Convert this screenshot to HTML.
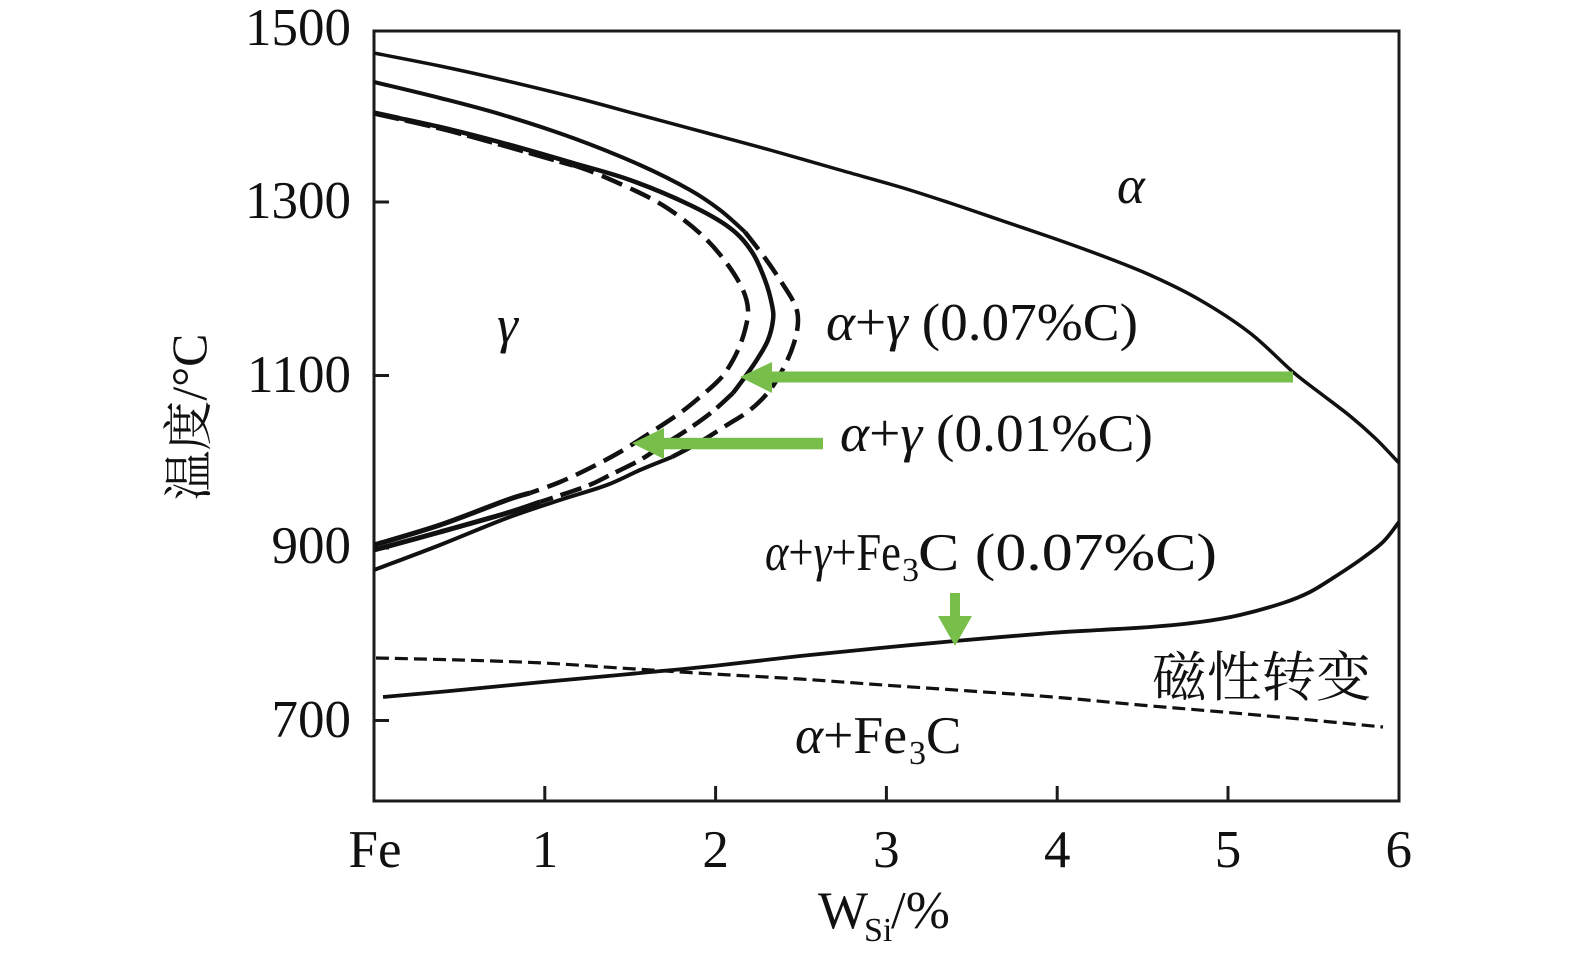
<!DOCTYPE html>
<html>
<head>
<meta charset="utf-8">
<style>
  html, body { margin: 0; padding: 0; background: #ffffff; }
  svg { display: block; }
  .t { font-family: "Liberation Serif", "Noto Serif CJK SC", serif; fill: #111; }
  .i { font-style: italic; }
</style>
</head>
<body>
<svg id="chart" width="1575" height="963" viewBox="0 0 1575 963" xmlns="http://www.w3.org/2000/svg">
  <rect x="0" y="0" width="1575" height="963" fill="#ffffff"/>

  <!-- frame -->
  <path d="M374,31 H1399 V801 H374 Z" fill="none" stroke="#1c1a1b" stroke-width="3"/>
  <!-- y ticks -->
  <path d="M374,202 h15 M374,375.5 h15 M374,548 h15 M374,720.5 h15" stroke="#1c1a1b" stroke-width="3" fill="none"/>
  <!-- x ticks -->
  <path d="M544.8,801 v-15 M715.6,801 v-15 M886.4,801 v-15 M1057.2,801 v-15 M1228,801 v-15" stroke="#1c1a1b" stroke-width="3" fill="none"/>

  <g id="curves" fill="none" stroke="#111" stroke-linejoin="round" stroke-linecap="butt">
    <!-- outer alpha boundary -->
    <polyline stroke-width="3.5" points="374,53 440,66 503,80 573,97 640,115 707,133 770,150 840,170 900,187 950,203 1000,220 1050,237 1100,255 1150,275 1200,300 1250,333 1293,372 1320,393 1350,416 1375,438 1399,463"/>

    <!-- outer loop: solid top -->
    <polyline stroke-width="4" points="374,82 440,98 503,115 573,138 640,165 690,190 720,210 745,232"/>
    <!-- outer loop dashed nose -->
    <polyline stroke-width="4.5" stroke-dasharray="22 9" points="745,232 765,258 782,283 795,305 798,322 794,343 785,365 770,390 750,410 727,425 700,442 672,457"/>
    <!-- outer loop solid bottom -->
    <polyline stroke-width="4" points="672,457 640,470 607,485 560,500 507,518 440,545 374,570"/>

    <!-- middle loop solid top -->
    <polyline stroke-width="4.5" points="374,113 440,127 503,143 573,163 630,180 690,205 730,228 752,252 765,280 772,305 773,320 768,340 758,358 745,377 733,393"/>
    <!-- middle loop dashed lower -->
    <polyline stroke-width="4.5" stroke-dasharray="22 8" points="733,393 712,412 687,430 660,447 640,460 610,475 587,486 540,502"/>
    <polyline stroke-width="5" points="540,502 507,513 440,532 374,550"/>

    <!-- inner loop -->
    <polyline stroke-width="5.5" stroke-dasharray="26 6" points="374,113 440,128 503,145 573,165"/>
    <polyline stroke-width="4.5" stroke-dasharray="22 9" points="573,165 600,175 650,198 680,217 707,240 728,265 743,290 748,310 745,330 738,350 727,370 717,382 700,397 680,413 650,433 620,452 590,468 560,482 530,493"/>
    <polyline stroke-width="5" points="530,493 507,500 440,525 374,545"/>

    <!-- alpha+gamma+Fe3C lower boundary -->
    <polyline stroke-width="3.8" points="383,697 450,691 543,682 630,674 713,666 800,656 880,648 955,641 1050,633 1100,630 1150,627 1200,622 1240,615 1283,603 1310,592 1333,578 1360,560 1383,542 1399,522"/>

    <!-- magnetic transition dashed -->
    <polyline stroke-width="3.2" stroke-dasharray="13 6" points="376,658 460,660 543,663 620,668 713,674 800,679 883,685 970,691 1053,697 1140,705 1223,712 1300,719 1383,727"/>
  </g>

  <!-- green arrows -->
  <g fill="#78be4b">
    <rect x="768" y="371.5" width="525" height="11"/>
    <polygon points="740,377 772,362 772,393"/>
    <rect x="660" y="437.8" width="163" height="11.5"/>
    <polygon points="632,443.3 664,428 664,459"/>
    <rect x="950" y="593" width="10" height="25"/>
    <polygon points="938,616 972,616 955,646"/>
  </g>

  <!-- y tick labels -->
  <g class="t" font-size="53" text-anchor="end">
    <text x="351" y="45">1500</text>
    <text x="351" y="218">1300</text>
    <text x="351" y="392">1100</text>
    <text x="351" y="563">900</text>
    <text x="351" y="737">700</text>
  </g>

  <!-- x tick labels -->
  <g class="t" font-size="53" text-anchor="middle">
    <text x="375" y="867">Fe</text>
    <text x="545" y="867">1</text>
    <text x="715.6" y="867">2</text>
    <text x="886.4" y="867">3</text>
    <text x="1057.2" y="867">4</text>
    <text x="1228" y="867">5</text>
    <text x="1398.8" y="867">6</text>
  </g>

  <!-- x axis title -->
  <text class="t" x="818" y="928" font-size="53">W</text>
  <text class="t" x="864" y="941" font-size="34">Si</text>
  <text class="t" x="891" y="928" font-size="53">/%</text>

  <!-- y axis title -->
  <text class="t" font-size="50" text-anchor="middle" dominant-baseline="central" transform="translate(189,417) rotate(-90)" textLength="167" lengthAdjust="spacingAndGlyphs">温度/°C</text>

  <!-- region labels -->
  <text class="t i" x="1117" y="203" font-size="53">α</text>
  <text class="t i" x="497" y="342" font-size="53">γ</text>

  <text class="t" x="826" y="340" font-size="53" textLength="312" lengthAdjust="spacingAndGlyphs"><tspan class="i">α</tspan>+<tspan class="i">γ</tspan> (0.07%C)</text>
  <text class="t" x="840" y="451" font-size="53" textLength="313" lengthAdjust="spacingAndGlyphs"><tspan class="i">α</tspan>+<tspan class="i">γ</tspan> (0.01%C)</text>

  <text class="t" x="765" y="570" font-size="53" textLength="136" lengthAdjust="spacingAndGlyphs"><tspan class="i">α</tspan>+<tspan class="i">γ</tspan>+Fe</text>
  <text class="t" x="902" y="581" font-size="34">3</text>
  <text class="t" x="918" y="570" font-size="53" textLength="299" lengthAdjust="spacingAndGlyphs">C (0.07%C)</text>

  <text class="t" x="1152" y="696" font-size="54" textLength="219" lengthAdjust="spacingAndGlyphs">磁性转变</text>

  <text class="t" x="795" y="753" font-size="53" textLength="112" lengthAdjust="spacingAndGlyphs"><tspan class="i">α</tspan>+Fe</text>
  <text class="t" x="909" y="764" font-size="34">3</text>
  <text class="t" x="926" y="753" font-size="53">C</text>
</svg>
<script>
(function(){
  try {
    var NS = "http://www.w3.org/2000/svg";
    var pls = document.querySelectorAll("#curves polyline");
    for (var k = 0; k < pls.length; k++) {
      var pl = pls[k];
      var raw = pl.getAttribute("points").trim().split(/\s+/);
      var p = raw.map(function(s){ var a = s.split(","); return [parseFloat(a[0]), parseFloat(a[1])]; });
      if (p.length < 3) continue;
      var d = "M" + p[0][0] + "," + p[0][1];
      for (var i = 0; i < p.length - 1; i++) {
        var p0 = p[i > 0 ? i - 1 : i], p1 = p[i], p2 = p[i + 1], p3 = p[i + 2 < p.length ? i + 2 : i + 1];
        var c1x = p1[0] + (p2[0] - p0[0]) / 6, c1y = p1[1] + (p2[1] - p0[1]) / 6;
        var c2x = p2[0] - (p3[0] - p1[0]) / 6, c2y = p2[1] - (p3[1] - p1[1]) / 6;
        d += " C" + c1x.toFixed(1) + "," + c1y.toFixed(1) + " " + c2x.toFixed(1) + "," + c2y.toFixed(1) + " " + p2[0] + "," + p2[1];
      }
      var path = document.createElementNS(NS, "path");
      for (var j = 0; j < pl.attributes.length; j++) {
        var at = pl.attributes[j];
        if (at.name !== "points") path.setAttribute(at.name, at.value);
      }
      path.setAttribute("d", d);
      pl.parentNode.replaceChild(path, pl);
    }
  } catch (e) {}
})();
</script>
</body>
</html>
